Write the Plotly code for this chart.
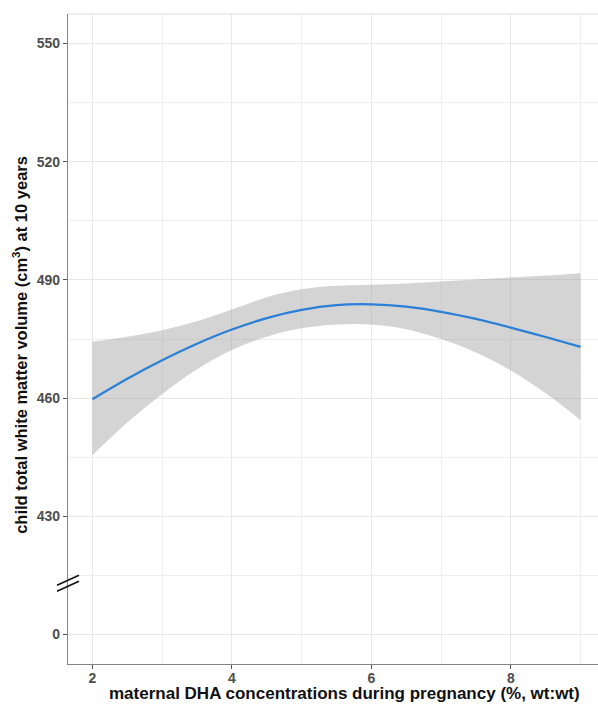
import plotly.graph_objects as go

# data (x = maternal DHA %, values in cm3)
dha = [2, 2.5, 3, 3.5, 4, 4.5, 5, 5.5, 6, 6.5, 7, 7.5, 8, 8.5, 9]
fit = [459.7, 464.9, 469.6, 473.8, 477.4, 480.3, 482.4, 483.6, 483.8, 483.2, 481.9, 480.1, 477.9, 475.5, 473.0]
upper = [474.3, 475.6, 477.2, 479.5, 482.5, 485.6, 487.6, 488.5, 488.8, 489.1, 489.6, 490.1, 490.6, 491.1, 491.7]
lower = [445.5, 453.8, 461.0, 467.3, 472.2, 475.6, 477.7, 478.7, 478.7, 477.5, 475.0, 471.6, 467.0, 461.2, 454.4]

x_ticks = [2, 4, 6, 8]
y_tickvals = [400, 430, 460, 490, 520, 550]   # 400 stands in for 0 (broken axis)
y_ticktext = ["0", "430", "460", "490", "520", "550"]

x_title = "maternal DHA concentrations during pregnancy (%, wt:wt)"
y_title = "child total white matter volume (cm<sup>3</sup>) at 10 years"

FONT = "Liberation Sans, Arial, sans-serif"

fig = go.Figure()
fig.add_trace(go.Scatter(x=dha, y=lower, mode="lines", line=dict(width=0, shape="spline"),
                         hoverinfo="skip", showlegend=False))
fig.add_trace(go.Scatter(x=dha, y=upper, mode="lines", line=dict(width=0, shape="spline"),
                         fill="tonexty", fillcolor="rgba(153,153,153,0.42)",
                         hoverinfo="skip", showlegend=False))
fig.add_trace(go.Scatter(x=dha, y=fit, mode="lines", line=dict(color="#2a7fd6", width=2.2, shape="spline"),
                         showlegend=False))

grid_col = "#e8e8e8"
tick_font = dict(size=14, family=FONT, color="#4d4d4d", weight="bold")
title_font = dict(size=17, family=FONT, color="#111111", weight="bold")
fig.update_layout(
    width=598, height=704,
    margin=dict(l=68, r=0, t=14, b=40),
    paper_bgcolor="white", plot_bgcolor="white",
    font=dict(family=FONT, color="#4d4d4d"),
    xaxis=dict(
        range=[1.65, 9.25], tickmode="array", tickvals=x_ticks,
        showgrid=True, gridcolor=grid_col, gridwidth=1.2,
        minor=dict(tickvals=[3, 5, 7, 9], showgrid=True, gridcolor="#eeeeee", gridwidth=1, ticklen=0),
        showline=True, linecolor="#8a8580", linewidth=1.3,
        ticks="outside", ticklen=4, tickcolor="#555555", tickwidth=1,
        tickfont=tick_font, ticklabelstandoff=-3,
        zeroline=False, automargin=False,
    ),
    yaxis=dict(
        range=[392.5, 557.5], tickmode="array", tickvals=y_tickvals, ticktext=y_ticktext,
        showgrid=True, gridcolor=grid_col, gridwidth=1.2,
        minor=dict(tickvals=[415, 445, 475, 505, 535], showgrid=True, gridcolor="#eeeeee", gridwidth=1, ticklen=0),
        showline=True, linecolor="#8a8580", linewidth=1.3,
        ticks="outside", ticklen=4, tickcolor="#555555", tickwidth=1,
        tickfont=tick_font,
        zeroline=False, automargin=False,
    ),
)

# axis titles
fig.add_annotation(text=x_title, xref="paper", yref="paper", x=0.522, y=0,
                   xanchor="center", yanchor="top", yshift=-18, showarrow=False, font=title_font)
fig.add_annotation(text=y_title, xref="paper", yref="paper", x=0, y=0.491, textangle=-90,
                   xanchor="center", yanchor="middle", xshift=-48, showarrow=False,
                   font=dict(size=16.5, family=FONT, color="#111111", weight="bold"))

# light top panel edge
fig.add_shape(type="line", xref="paper", yref="paper", x0=0, x1=1, y0=1, y1=1,
              line=dict(color="#dddddd", width=1))

# axis break marker "//"
for off in (3, -3):
    fig.add_shape(type="line", xref="paper", yref="y", xsizemode="pixel", ysizemode="pixel",
                  xanchor=0, yanchor=413, x0=-11, x1=11, y0=off - 5, y1=off + 5,
                  line=dict(color="#111111", width=1.6))

fig.write_html("out.html", config={"displayModeBar": False},
               post_script="document.body.style.margin='0';document.body.style.padding='0';")
